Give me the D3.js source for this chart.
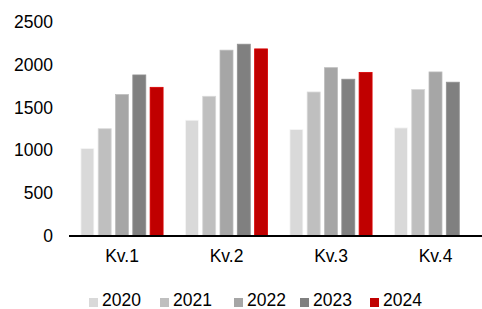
<!DOCTYPE html>
<html>
<head>
<meta charset="utf-8">
<script src="https://cdn.jsdelivr.net/npm/d3@7"></script>
<style>
  html, body { margin: 0; padding: 0; background: #fff; }
  svg { display: block; font-family: "Liberation Sans", Arial, sans-serif; }
</style>
</head>
<body>
<svg id="chart" width="482" height="309"></svg>
<script>
const categories = ["Kv.1", "Kv.2", "Kv.3", "Kv.4"];
const seriesNames = ["2020", "2021", "2022", "2023", "2024"];
const seriesColors = ["#d9d9d9", "#bfbfbf", "#a6a6a6", "#808080", "#c00000"];
const values2020 = [1020, 1350, 1240, 1260];
const values2021 = [1250, 1630, 1680, 1710];
const values2022 = [1650, 2170, 1965, 1915];
const values2023 = [1880, 2240, 1830, 1795];
const values2024 = [1735, 2185, 1910, null];
const yTicks = [0, 500, 1000, 1500, 2000, 2500];

const seriesValues = [values2020, values2021, values2022, values2023, values2024];

const svg = d3.select("#chart");
const fontSize = 17.5;

const x = d3.scaleBand().domain(categories).range([69.75, 487.75]).paddingInner(0).paddingOuter(0);
const x1 = d3.scaleBand().domain(seriesNames).range([0, x.bandwidth()]).paddingInner(0.25).paddingOuter(0.645);
const y = d3.scaleLinear().domain([0, 2500]).range([235.5, 22]);

// bars
categories.forEach((cat, ci) => {
  const g = svg.append("g").attr("transform", `translate(${x(cat)},0)`);
  seriesNames.forEach((s, si) => {
    const v = seriesValues[si][ci];
    if (v == null) return;
    g.append("rect")
      .attr("x", x1(s))
      .attr("y", y(v))
      .attr("width", x1.bandwidth())
      .attr("height", y(0) - y(v))
      .attr("fill", seriesColors[si])
      .attr("stroke", d3.color(seriesColors[si]).brighter(0.35))
      .attr("stroke-width", 0.8);
  });
});

// y axis labels
const yAxis = d3.axisLeft(y).tickValues(yTicks).tickSize(0).tickPadding(0).tickFormat(d3.format("d"));
const yg = svg.append("g").attr("transform", "translate(53,0)").call(yAxis);
yg.select(".domain").remove();
yg.selectAll("text").attr("font-size", fontSize).attr("font-family", "Liberation Sans, Arial, sans-serif").attr("fill", "#000");

// x axis
const xAxis = d3.axisBottom(x).tickSize(0).tickPadding(14);
const xg = svg.append("g").attr("transform", `translate(0,${y(0)})`).call(xAxis);
xg.select(".domain").remove();
xg.selectAll("text").attr("font-size", fontSize).attr("font-family", "Liberation Sans, Arial, sans-serif").attr("fill", "#000");
svg.append("line")
  .attr("x1", 69).attr("x2", 482)
  .attr("y1", y(0)+0.5).attr("y2", y(0)+0.5)
  .attr("stroke", "#000").attr("stroke-width", 2);

// legend
const legendX = [89, 160, 234, 300, 370];
const lg = svg.append("g");
seriesNames.forEach((s, i) => {
  lg.append("rect")
    .attr("x", legendX[i]).attr("y", 298)
    .attr("width", 9).attr("height", 9)
    .attr("fill", seriesColors[i]);
  lg.append("text")
    .attr("x", legendX[i] + 13).attr("y", 306)
    .attr("font-size", fontSize)
    .attr("fill", "#000")
    .text(s);
});
</script>
</body>
</html>
